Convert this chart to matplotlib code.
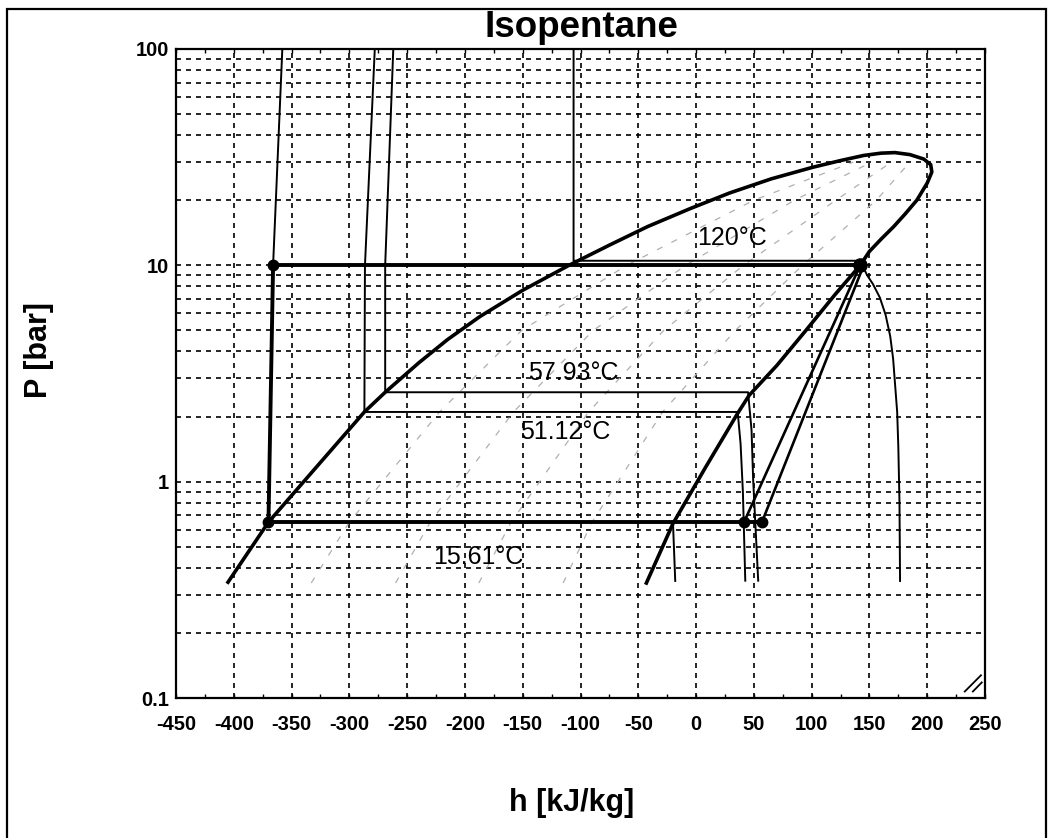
#!/usr/bin/env python3
"""
Isopentane P-h diagram with ORC cycle (reconstructed)
Output: out.png
"""
import matplotlib
matplotlib.use('Agg')
import matplotlib.pyplot as plt
from matplotlib.ticker import FixedLocator, FixedFormatter, NullFormatter, MultipleLocator, LogLocator
from matplotlib.lines import Line2D
from matplotlib.patches import Rectangle

plt.rcParams['font.family'] = ['Liberation Sans', 'DejaVu Sans']
plt.rcParams['axes.unicode_minus'] = False

# ==================== data ====================

# saturation dome: liquid side up to the top, then vapour side back down
dome_h = [-405, -370, -287, -269, -240, -215, -187, -150, -110, -75, -42, -5, 29,
          65, 101, 125, 145, 160, 172, 185, 197, 203, 204, 200, 191, 181, 171,
          160, 150, 142, 120, 95, 70, 46, 36, 8, -20, -43]
dome_p = [0.343, 0.65, 2.1, 2.59, 3.54, 4.54, 5.8, 7.67, 10.0, 12.4, 15.1, 18.3, 21.6,
          25.1, 28.4, 30.5, 32.2, 33.0, 33.2, 32.5, 31.0, 29.2, 27.0, 24.0, 20.0, 17.3, 15.1,
          13.2, 11.6, 10.0, 7.3, 5.0, 3.45, 2.51, 2.07, 1.16, 0.64, 0.34]

# cycle states
pump_h = [-370, -366]
pump_p = [0.65, 10]
evap_h = [-366, 142]
evap_p = [10, 10]
exp1_h = [142, 41.5]
exp1_p = [10, 0.65]
exp2_h = [145, 57]
exp2_p = [10, 0.65]
cond_h = [57, -370]
cond_p = [0.65, 0.65]
state_h = [-370, -366, 41.5, 57]
state_p = [0.65, 10, 0.65, 0.65]
turb_in_h = [142]
turb_in_p = [10]

# isotherms
t15_h = [-358, -366, -370]
t15_p = [100, 10, 0.65]
t15v_h = [-20, -18]
t15v_p = [0.65, 0.344]

t51_h = [-278, -286.5, -287, 36, 38.5, 40.5, 42.6]
t51_p = [100, 10, 2.1, 2.1, 1.5, 0.9, 0.345]

t58_h = [-262, -269, -269, 45, 48, 49.4, 53.8]
t58_p = [100, 10, 2.59, 2.59, 1.73, 1.02, 0.345]

t120_h = [-106, -106, 142, 148, 153, 159, 164, 168, 170.5, 172, 174, 175, 176, 176.5]
t120_p = [100, 10.5, 10.5, 9.0, 8.2, 7.1, 5.9, 4.7, 3.7, 2.9, 2.1, 1.45, 0.8, 0.344]

# faint quality lines inside the dome
q_p = [0.34, 0.65, 2.1, 5.0, 10, 20, 30]
q20_h = [-333, -300, -222, -151, -60, 50, 136]
q40_h = [-260, -230, -158, -89, -9, 85, 152]
q60_h = [-188, -160, -93, -28, 41, 121, 169]
q80_h = [-115, -90, -29, 34, 92, 156, 185]

# labels
iso_labels = ['120°C', '57.93°C', '51.12°C', '15.61°C']
iso_label_h = [31, -106, -113, -188]
iso_label_p = [13.4, 3.18, 1.70, 0.448]

x_ticks = list(range(-450, 251, 50))
y_ticks = [0.1, 1, 10, 100]
y_ticklabels = ['0.1', '1', '10', '100']

# ==================== plot ====================

W, H = 1049, 838
fig = plt.figure(figsize=(W / 100, H / 100), dpi=100)
fig.patch.set_facecolor('white')

# outer frame (bottom edge runs off the picture)
fig.patches.append(Rectangle((7 / W, -0.02), (1046 - 7) / W, 1.02 - 9 / H,
                             transform=fig.transFigure, fill=False,
                             edgecolor='black', linewidth=1.6))

ax = fig.add_axes([176 / W, 1 - 698 / H, 809 / W, 649 / H])
ax.set_yscale('log')
ax.set_xlim(-450, 250)
ax.set_ylim(0.1, 100)

# grid
grid_kw = dict(color='black', linewidth=1.2, linestyle=(0, (3, 3)))
ax.xaxis.grid(True, which='major', **grid_kw)
ax.yaxis.grid(True, which='both', **grid_kw)
ax.set_axisbelow(True)

# quality lines
for qh in (q20_h, q40_h, q60_h, q80_h):
    ax.plot(qh, q_p, color='#b0b0b0', linewidth=0.9, linestyle=(0, (5, 8)))

# isotherms
thin = dict(color='black', linewidth=1.4, solid_capstyle='butt')
ax.plot(t15_h, t15_p, **thin)
ax.plot(t15v_h, t15v_p, **thin)
ax.plot(t51_h, t51_p, **thin)
ax.plot(t58_h, t58_p, **thin)
ax.plot(t120_h, t120_p, **thin)

# dome
ax.plot(dome_h, dome_p, color='black', linewidth=2.6, solid_joinstyle='round')

# cycle
thick = dict(color='black', linewidth=2.8)
ax.plot(pump_h, pump_p, **thick)
ax.plot(evap_h, evap_p, **thick)
ax.plot(cond_h, cond_p, **thick)
ax.plot(exp1_h, exp1_p, color='black', linewidth=1.9)
ax.plot(exp2_h, exp2_p, color='black', linewidth=1.9)
ax.plot(state_h, state_p, 'o', color='black', markersize=7.5)
ax.plot(turb_in_h, turb_in_p, 'o', color='black', markersize=9.5)

for lab, lh, lp in zip(iso_labels, iso_label_h, iso_label_p):
    ax.text(lh, lp, lab, fontsize=18, ha='center', va='center', color='black')

# axes / ticks
for s in ax.spines.values():
    s.set_linewidth(1.6)
ax.xaxis.set_major_locator(FixedLocator(x_ticks))
ax.xaxis.set_minor_locator(MultipleLocator(25))
ax.set_xticklabels([str(v) for v in x_ticks])
ax.yaxis.set_major_locator(FixedLocator(y_ticks))
ax.yaxis.set_major_formatter(FixedFormatter(y_ticklabels))
ax.yaxis.set_minor_locator(LogLocator(base=10, subs=range(2, 10)))
ax.yaxis.set_minor_formatter(NullFormatter())
ax.tick_params(axis='x', which='both', direction='in', top=True, bottom=True,
               length=3, width=1, pad=12)
ax.tick_params(axis='y', which='both', direction='in', left=False, right=False,
               length=0, pad=5)
for t in ax.get_xticklabels() + ax.get_yticklabels():
    t.set_fontsize(14.5)
    t.set_fontweight('bold')

# resize grip in the corner
ax.add_line(Line2D([0.975, 0.995], [0.010, 0.035], transform=ax.transAxes,
                   color='black', linewidth=1.3))
ax.add_line(Line2D([0.985, 0.996], [0.010, 0.024], transform=ax.transAxes,
                   color='black', linewidth=1.3))

# titles
fig.text(581 / W, 1 - 37 / H, 'Isopentane', ha='center', va='baseline',
         fontsize=26.5, fontweight='bold')
fig.text(39 / W, 1 - 350 / H, 'P [bar]', rotation=90, ha='center', va='center',
         fontsize=22, fontweight='bold')
fig.text(572 / W, 1 - 803 / H, 'h [kJ/kg]', ha='center', va='center',
         fontsize=22, fontweight='bold')

fig.savefig('out.png', dpi=100)
